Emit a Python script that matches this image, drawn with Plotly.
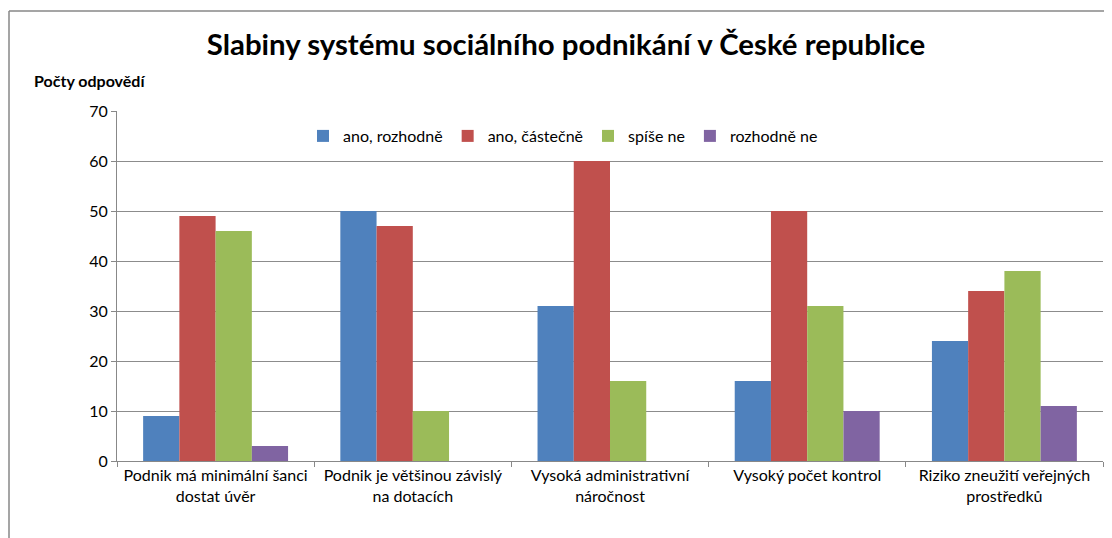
import plotly.graph_objects as go

categories = [
    "Podnik má minimální šanci<br>dostat úvěr",
    "Podnik je většinou závislý<br>na dotacích",
    "Vysoká administrativní<br>náročnost",
    "Vysoký počet kontrol",
    "Riziko zneužití veřejných<br>prostředků",
]
series_names = ["ano, rozhodně", "ano, částečně", "spíše ne", "rozhodně ne"]
ano_rozhodne = [9, 50, 31, 16, 24]
ano_castecne = [49, 47, 60, 50, 34]
spise_ne = [46, 10, 16, 31, 38]
rozhodne_ne = [3, 0, 0, 10, 11]
colors = ["#4F81BD", "#C0504D", "#9BBB59", "#8064A2"]
y_ticks = [0, 10, 20, 30, 40, 50, 60, 70]

FONT = "Lato"
OFF = 8  # page body margin
W, H = 1112 - OFF, 538 - OFF
# plot area in screen px: x 117..1103, y 111..461
L, R, T, B = 117 - OFF, 1112 - 1103, 111 - OFF, 538 - 461
pw, ph = W - L - R, H - T - B

fig = go.Figure()
for name, vals, c in zip(series_names, [ano_rozhodne, ano_castecne, spise_ne, rozhodne_ne], colors):
    fig.add_trace(go.Bar(x=categories, y=vals, name=name, marker=dict(color=c, line=dict(width=0))))

def px_x(x):  # screen px -> paper
    return (x - OFF - L) / pw

def px_y(y):
    return (H - B - (y - OFF)) / ph

fig.update_layout(
    width=W, height=H,
    margin=dict(l=L, r=R, t=T, b=B, autoexpand=False),
    paper_bgcolor="white", plot_bgcolor="white",
    barmode="group", bargap=0.265, bargroupgap=0,
    font=dict(family=FONT, size=16, color="#000000"),
    title=dict(text="<b>Slabiny systému sociálního podnikání v České republice</b>",
               font=dict(family=FONT, size=29.4, color="#000000"),
               xref="paper", x=px_x(566), xanchor="center",
               yref="container", y=1 - (45 - OFF) / H, yanchor="middle"),
    legend=dict(orientation="h", xref="paper", yref="paper",
                x=px_x(563), xanchor="center", y=px_y(136), yanchor="middle",
                font=dict(family=FONT, size=16), bgcolor="rgba(0,0,0,0)",
                itemwidth=30, traceorder="normal"),
    xaxis=dict(showline=True, linecolor="#888888", linewidth=1, automargin=False,
               ticks="outside", tickson="boundaries", ticklen=5, tickcolor="#888888",
               tickfont=dict(family=FONT, size=16, color="#000000"), showgrid=False),
    yaxis=dict(range=[0, 70], tickvals=y_ticks, showline=True, linecolor="#888888", linewidth=1,
               automargin=False, ticks="outside", ticklen=5, tickcolor="#888888",
               showgrid=True, gridcolor="#8c8c8c", gridwidth=1, zeroline=False,
               tickfont=dict(family=FONT, size=16, color="#000000")),
    showlegend=True,
)

fig.add_annotation(text="<b>Počty odpovědí</b>", xref="paper", yref="paper",
                   x=px_x(32), y=px_y(80), xanchor="left", yanchor="middle",
                   showarrow=False, font=dict(family=FONT, size=16, color="#000000"))

# chart area frame (top and left edges visible)
fig.add_shape(type="line", xref="paper", yref="paper", x0=px_x(9), x1=px_x(1120),
              y0=px_y(11), y1=px_y(11), line=dict(color="#878787", width=1.5))
fig.add_shape(type="line", xref="paper", yref="paper", x0=px_x(9), x1=px_x(9),
              y0=px_y(11), y1=px_y(545), line=dict(color="#878787", width=1.5))

fig.write_html("out.html")
